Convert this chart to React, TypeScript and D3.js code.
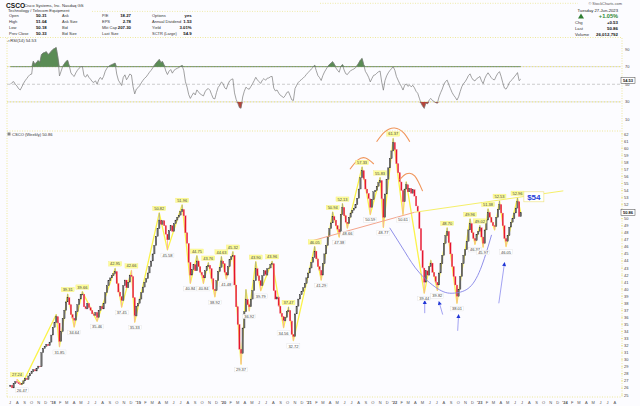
import * as d3 from 'd3'

// weekly closes (dividend adjusted), one per week ending Friday, from 7-Jul-2017
const closes2017 = [26.4, 26.0, 26.6, 26.9, 26.8, 26.6, 26.5, 26.6, 27.0, 27.4, 27.2, 27.7, 28.0, 28.3, 28.6, 28.4, 28.8, 29.1, 29.0, 31.0, 31.6, 31.9, 32.2, 32.0, 32.5, 33.5]
const closes2018 = [34.6, 35.3, 36.1, 35.2, 32.6, 34.0, 35.8, 37.0, 38.2, 38.8, 37.8, 36.4, 35.9, 35.6, 36.8, 37.8, 38.6, 39.2, 39.3, 37.5, 37.2, 38.0, 37.4, 37.0, 36.5, 36.3, 36.7, 36.0, 37.0, 37.6, 37.2, 38.0, 39.5, 40.5, 41.2, 41.6, 41.9, 42.2, 42.5, 40.8, 39.6, 39.0, 38.4, 40.5, 41.3, 40.2, 41.0, 42.0, 41.8, 38.8, 36.2, 37.6]
const closes2019 = [38.0, 38.6, 39.5, 40.3, 41.0, 41.5, 42.3, 43.2, 44.0, 45.0, 46.2, 47.5, 48.6, 49.8, 49.2, 49.7, 49.0, 47.8, 47.0, 48.3, 49.0, 48.2, 49.3, 49.8, 50.2, 50.5, 51.0, 51.3, 50.4, 48.0, 46.5, 43.8, 42.0, 42.8, 43.5, 42.6, 44.0, 43.2, 42.4, 42.0, 41.6, 42.6, 43.2, 43.4, 42.9, 41.5, 40.0, 39.8, 41.2, 42.5, 43.1, 44.0]
const closes2020 = [43.6, 42.4, 42.0, 43.2, 44.2, 44.6, 44.8, 40.6, 37.5, 35.0, 31.5, 30.9, 34.5, 36.8, 38.6, 37.8, 37.5, 38.6, 39.8, 41.2, 42.9, 41.9, 41.2, 40.5, 41.9, 42.6, 42.0, 42.9, 43.0, 43.5, 43.6, 39.8, 38.6, 38.9, 37.6, 36.6, 36.1, 35.5, 36.0, 36.8, 37.0, 35.5, 33.6, 33.3, 36.5, 37.6, 38.6, 39.2, 39.7, 40.2, 40.8, 41.6]
const closes2021 = [42.3, 43.0, 43.8, 44.5, 45.4, 44.3, 43.2, 42.7, 42.0, 43.6, 45.0, 46.2, 47.5, 48.6, 49.4, 50.3, 49.8, 49.0, 48.5, 48.1, 50.6, 51.6, 50.4, 49.5, 49.3, 50.2, 50.8, 51.2, 51.5, 52.0, 52.9, 54.2, 55.8, 56.8, 55.6, 54.2, 53.6, 52.8, 51.6, 52.7, 53.8, 54.0, 54.6, 55.1, 55.4, 52.8, 50.2, 53.5, 55.6, 57.2, 58.5, 59.6, 60.8]
const closes2022 = [59.8, 57.8, 56.5, 55.2, 54.0, 52.4, 54.2, 54.8, 53.8, 54.3, 53.6, 54.1, 53.2, 51.8, 51.0, 48.6, 45.5, 43.0, 41.0, 42.6, 42.0, 43.2, 43.7, 42.4, 41.8, 41.0, 40.6, 42.3, 43.6, 44.8, 46.5, 47.6, 48.2, 46.6, 45.0, 43.2, 41.8, 40.6, 39.0, 40.0, 41.8, 43.6, 44.8, 45.6, 46.8, 48.4, 49.3, 48.0, 47.2, 46.9, 47.8, 48.2]
const closes2023 = [48.7, 47.4, 46.5, 48.4, 49.8, 50.9, 50.2, 49.5, 49.0, 48.9, 50.2, 51.3, 52.0, 50.8, 49.0, 47.2, 46.8, 47.6, 48.8, 49.5, 50.0, 50.8, 51.5, 52.4, 50.3, 50.86]
const closes = [...closes2017, ...closes2018, ...closes2019, ...closes2020, ...closes2021, ...closes2022, ...closes2023]
const firstWeek = new Date(2017, 6, 7)
const openFirst = 26.2

// ZigZag turning points: week index and price
const pivotWeeks = [4, 7, 28, 30, 35, 39, 44, 53, 64, 68, 74, 76, 91, 96, 105, 110, 114, 118, 121, 125, 129, 132, 136, 141, 144, 146, 150, 153, 160, 167, 170, 173, 186, 190, 197, 201, 203, 206, 215, 220, 226, 228, 234, 240, 242, 253, 257, 261, 267, 273, 281, 284, 287, 289, 292, 296, 299, 303, 310]
const pivotPrices = [27.24, 26.47, 36.4, 31.85, 39.31, 34.64, 39.66, 35.46, 42.95, 37.45, 42.66, 35.33, 50.82, 45.58, 51.96, 40.84, 44.75, 40.84, 43.76, 38.92, 44.63, 41.48, 45.32, 29.37, 39.95, 36.92, 43.9, 39.79, 43.96, 34.56, 37.47, 32.72, 46.05, 41.29, 50.94, 47.38, 52.13, 48.66, 57.33, 50.59, 55.83, 48.77, 61.37, 50.61, 55.21, 39.44, 44.1, 39.82, 48.7, 38.01, 49.96, 46.37, 49.02, 45.97, 51.38, 48.4, 52.53, 46.05, 52.96]
const unlabeledWeeks = [28, 144, 242, 257, 296]

// RSI(14): first weeks, last value from the legend
const rsiLead = [50, 52, 53, 50, 48, 45, 43.5, 47, 51, 54, 56.5, 59, 61, 61.5]
const rsiLast = 54.53

// hand-drawn annotations, [week index, price]
const leftShoulder = [[207.5, 57.0], [212.3, 58.3], [217.2, 58.6], [222.1, 57.75]]
const headArc = [[223.9, 60.9], [228.8, 62.3], [234.9, 62.85], [240.4, 62.15], [244.1, 60.9]]
const rightShoulder = [[237.9, 55.5], [242.2, 56.35], [247.1, 56.05], [252.0, 53.9]]
const cupArc = [[231.9, 48.7], [241.1, 45.3], [250.2, 42.3], [262.4, 39.9], [271.6, 39.45], [280.8, 40.3], [288.1, 43.3], [294.2, 47.7]]
const necklineFrom = [184.2, 46.84]
const necklineTurn = [247.0, 50.9]
const necklineTo = [338.0, 53.94]
const arrowTips = [[253.3, 38.47], [261.8, 38.33], [274.0, 36.48], [302.1, 43.85]]
const arrowTails = [[253.3, 36.6], [264.3, 36.4], [273.4, 34.1], [298.5, 38.0]]
const targetLabel = '$54'
const targetAt = [320, 53.1]

const priceTicks = d3.range(25, 63)
const rsiTicks = [90, 70, 50, 30, 10]
const monthLetters = ['J', 'F', 'M', 'A', 'M', 'J', 'J', 'A', 'S', 'O', 'N', 'D']

const quoteLabels = [
  ['Open', 'High', 'Low', 'Prev Close'],
  ['Ask', 'Ask Size', 'Bid', 'Bid Size'],
  ['P/E', 'EPS', 'Mkt Cap', 'Last Size'],
  ['Options', 'Annual Dividend', 'Yield', 'SCTR (Large)'],
]
const quoteValues = [
  ['50.31', '51.04', '50.18', '50.33'],
  ['', '', '', ''],
  ['18.27', '2.78', '207.30', ''],
  ['yes', '1.53', '3.01%', '54.9'],
]
const sideLabels = ['Chg', 'Last', 'Volume']
const sideValues = ['+0.53', '50.86', '26,012,792']

const FONT = 'Liberation Sans, Arial, sans-serif'
const DOT = '#e8e070'

function computeRsi(v: number[], n: number) {
  const out: number[] = [...rsiLead]
  let g = 0
  let l = 0
  for (let i = 1; i <= n; i++) {
    const ch = v[i] - v[i - 1]
    g += Math.max(ch, 0) / n
    l += Math.max(-ch, 0) / n
  }
  out[n] = 100 - 100 / (1 + g / l)
  for (let i = n + 1; i < v.length; i++) {
    const ch = v[i] - v[i - 1]
    g = (g * (n - 1) + Math.max(ch, 0)) / n
    l = (l * (n - 1) + Math.max(-ch, 0)) / n
    out[i] = l === 0 ? 100 : 100 - 100 / (1 + g / l)
  }
  return out
}

export default function App() {
  const x = d3.scaleTime().domain([new Date(2018, 0, 1), new Date(2024, 0, 1)]).range([52, 564])
  const y = d3.scaleLinear().domain([25, 62]).range([395, 134])
  const yR = d3.scaleLinear().domain([10, 90]).range([119.5, 49])
  const wd = (i: number) => d3.timeDay.offset(firstWeek, Math.round(i * 7))
  const xi = (i: number) => x(wd(i))

  const bars = closes.map((c, i) => {
    const o = i === 0 ? openFirst : closes[i - 1]
    let hi = Math.max(o, c)
    let lo = Math.min(o, c)
    const k = pivotWeeks.indexOf(i)
    if (k >= 0) {
      if (pivotPrices[k] > hi) hi = pivotPrices[k]
      if (pivotPrices[k] < lo) lo = pivotPrices[k]
    }
    return { i, o, c, hi, lo, up: c >= o }
  })

  const rsi = computeRsi(closes, 14)
  const rsiLine = d3.line<number>().x((_, i) => xi(i)).y((d) => yR(d))(rsi) || ''
  const over = d3.area<number>().x((_, i) => xi(i)).y0(yR(70)).y1((d) => yR(Math.max(d, 70)))(rsi) || ''
  const under = d3.area<number>().x((_, i) => xi(i)).y0(yR(30)).y1((d) => yR(Math.min(d, 30)))(rsi) || ''

  const isHigh = (k: number) =>
    k === 0 ? pivotPrices[0] > pivotPrices[1] : pivotPrices[k] > pivotPrices[k - 1]
  const zz = pivotWeeks.map((w, k) => [xi(w), y(pivotPrices[k])] as [number, number])
  zz.push([xi(closes.length - 1), y(closes[closes.length - 1])])
  const zigzag = d3.line()(zz) || ''

  const pt = (p: number[]) => [xi(p[0]), y(p[1])] as [number, number]
  const curve = (pts: number[][]) => d3.line().curve(d3.curveNatural)(pts.map(pt)) || ''

  const months = d3.timeMonth.range(new Date(2017, 6, 1), new Date(2024, 7, 2))
  const last = closes[closes.length - 1]

  const L = 7
  const R = 621
  const [tgx, tgy] = pt(targetAt)

  return (
    <svg width={640} height={406} style={{ position: 'absolute', left: 0, top: 0, background: '#fcfcff' }} fontFamily={FONT}>
      <style>{`body{margin:0}`}</style>
      <rect width={640} height={406} fill="#fcfcff" />

      {/* header */}
      <text x={6} y={7.6} fontSize={6.6} fontWeight={700} fill="#111">CSCO</text>
      <text x={24} y={7.4} fontSize={4.2} fill="#333">Cisco Systems, Inc.  Nasdaq GS</text>
      <text x={8} y={12} fontSize={4.2} fill="#333">Technology / Telecom Equipment</text>
      <line x1={92} x2={320} y1={11.4} y2={11.4} stroke={DOT} strokeWidth={0.6} strokeDasharray="1 1.5" />
      <line x1={320} x2={578} y1={3.3} y2={3.3} stroke={DOT} strokeWidth={0.6} strokeDasharray="1 1.5" />
      {quoteLabels.map((col, c) =>
        col.map((lab, r) => (
          <text key={`l${c}${r}`} x={[9, 62, 102, 152][c]} y={17.4 + r * 6} fontSize={4} fill="#333">{lab}</text>
        ))
      )}
      {quoteValues.map((col, c) =>
        col.map((val, r) => (
          <text key={`v${c}${r}`} x={[46.7, 90, 131, 191.7][c]} y={17.4 + r * 6} fontSize={4.3} fontWeight={700} fill="#111" textAnchor="end">{val}</text>
        ))
      )}
      <text x={622} y={5.4} fontSize={3.9} fill="#555" textAnchor="end">© StockCharts.com</text>
      <text x={618} y={11.7} fontSize={4.2} fill="#222" textAnchor="end">Tuesday  27-Jun-2023</text>
      <path d="M578,18.5 L581,13.5 L584,18.5 Z" fill="#2f7d32" />
      <text x={618} y={18.2} fontSize={5.6} fontWeight={700} fill="#2f8a34" textAnchor="end">+1.05%</text>
      {sideLabels.map((s, k) => (
        <text key={s} x={575} y={24.3 + k * 5.9} fontSize={4.2} fill="#333">{s}</text>
      ))}
      {sideValues.map((s, k) => (
        <text key={s} x={618} y={24.3 + k * 5.9} fontSize={4.4} fontWeight={700} fill="#111" textAnchor="end">{s}</text>
      ))}
      <line x1={0} x2={R} y1={37.5} y2={37.5} stroke={DOT} strokeWidth={0.7} strokeDasharray="1 1.5" />

      {/* RSI panel */}
      <line x1={L} x2={L} y1={38} y2={397} stroke={DOT} strokeWidth={0.7} strokeDasharray="1 1.5" />
      <line x1={R + 1} x2={R + 1} y1={38} y2={397} stroke={DOT} strokeWidth={0.7} strokeDasharray="1 1.5" />
      <text x={7} y={42} fontSize={4.2} fill="#333">⩘ RSI(14) {rsiLast.toFixed(2)}</text>
      {[70, 30].map((v) => (
        <g key={v}>
          <line x1={L} x2={R} y1={yR(v)} y2={yR(v)} stroke="#d4d4d4" strokeWidth={0.8} />
          <line x1={L} x2={R} y1={yR(v)} y2={yR(v)} stroke="#f0ea60" strokeWidth={0.8} strokeDasharray="1 2" />
        </g>
      ))}
      <line x1={L} x2={R} y1={yR(50)} y2={yR(50)} stroke="#b8b8b8" strokeWidth={0.7} strokeDasharray="3 2" />
      <path d={over} fill="#5a8c55" stroke="#41703d" strokeWidth={0.4} />
      <path d={under} fill="#b5443a" />
      <path d={rsiLine} fill="none" stroke="#7a7a7a" strokeWidth={0.7} />
      {rsiTicks.map((t) => (
        <text key={t} x={625} y={yR(t) + 1.5} fontSize={4} fill="#444">{t}</text>
      ))}
      <rect x={621} y={yR(rsiLast) - 3} width={14} height={6} fill="#fff" stroke="#444" strokeWidth={0.5} />
      <text x={628} y={yR(rsiLast) + 1.5} fontSize={4} fontWeight={700} textAnchor="middle" fill="#111">{rsiLast.toFixed(2)}</text>

      {/* price panel */}
      <line x1={L} x2={R} y1={131} y2={131} stroke={DOT} strokeWidth={0.7} strokeDasharray="1 1.5" />
      <rect x={L + 0.5} y={132.5} width={3} height={3} fill="#888" />
      <text x={12} y={135.6} fontSize={4.1} fill="#333">CSCO (Weekly) {last.toFixed(2)}</text>

      <path d={zigzag} fill="none" stroke="#fbf34a" strokeWidth={1.3} strokeLinejoin="round" />

      {bars.map((b) => {
        const cx = xi(b.i)
        return (
          <g key={b.i}>
            <line x1={cx} x2={cx} y1={y(b.hi)} y2={y(b.lo)} stroke={b.up ? '#9a9a9a' : '#f4a3ad'} strokeWidth={0.9} />
            <rect
              x={cx - 0.7}
              y={y(Math.max(b.o, b.c))}
              width={1.4}
              height={Math.max(0.8, Math.abs(y(b.o) - y(b.c)))}
              fill={b.up ? '#6e6e6e' : '#e5122c'}
              stroke={b.up ? '#333' : '#f07080'}
              strokeWidth={0.3}
            />
          </g>
        )
      })}

      {/* neckline / resistance */}
      <path d={d3.line()([pt(necklineFrom), pt(necklineTurn)]) || ''} stroke="#f4a58c" strokeWidth={1} fill="none" />
      <path d={d3.line()([pt(necklineTurn), pt(necklineTo)]) || ''} stroke="#f5ef6a" strokeWidth={1} fill="none" />

      {/* head & shoulders arcs, cup */}
      {[leftShoulder, headArc, rightShoulder].map((a, k) => (
        <path key={k} d={curve(a)} fill="none" stroke="#f0955a" strokeWidth={1.1} />
      ))}
      <path d={curve(cupArc)} fill="none" stroke="#8383e6" strokeWidth={0.9} />
      {arrowTips.map((t, k) => {
        const [tx, ty] = pt(t)
        const [bx, by] = pt(arrowTails[k])
        const ang = Math.atan2(ty - by, tx - bx)
        const hx = tx - Math.cos(ang) * 4
        const hy = ty - Math.sin(ang) * 4
        const px = -Math.sin(ang) * 2
        const py = Math.cos(ang) * 2
        return (
          <g key={k}>
            <line x1={bx} y1={by} x2={hx} y2={hy} stroke="#8b8bef" strokeWidth={0.8} />
            <path d={`M${tx},${ty} L${hx + px},${hy + py} L${hx - px},${hy - py} Z`} fill="#1f35d6" />
          </g>
        )
      })}

      {/* zigzag labels */}
      {pivotWeeks.map((w, k) => {
        if (unlabeledWeeks.includes(w)) return null
        const hi = isHigh(k)
        const cx = xi(w)
        const cy = hi ? y(pivotPrices[k]) - 4.5 : y(pivotPrices[k]) + 5.5
        return (
          <g key={w}>
            <rect x={cx - 6.5} y={cy - 2.2} width={13} height={4.4} fill={hi ? '#fdfd9a' : '#ffffff'} stroke={hi ? '#f2e66a' : '#d8d8d8'} strokeWidth={0.3} />
            <text x={cx} y={cy + 1.5} fontSize={4} textAnchor="middle" fill="#444">{pivotPrices[k].toFixed(2)}</text>
          </g>
        )
      })}

      {/* target */}
      <rect x={tgx - 10} y={tgy - 5} width={20} height={10} fill="#ffffff" stroke="#efe48a" strokeWidth={0.7} />
      <text x={tgx} y={tgy + 3} fontSize={8} fontWeight={700} textAnchor="middle" fill="#2540d8">{targetLabel}</text>

      {/* price axis */}
      {priceTicks.map((t) => (
        <g key={t}>
          <line x1={R} x2={R + 2} y1={y(t)} y2={y(t)} stroke={DOT} strokeWidth={0.6} />
          {Math.abs(y(t) - y(last)) > 4.5 && (
            <text x={624} y={y(t) + 1.5} fontSize={4} fill="#444">{t}</text>
          )}
        </g>
      ))}
      <rect x={621} y={y(last) - 3} width={14} height={6} fill="#fff" stroke="#444" strokeWidth={0.5} />
      <text x={628} y={y(last) + 1.5} fontSize={4} fontWeight={700} textAnchor="middle" fill="#111">{last.toFixed(2)}</text>

      {/* time axis */}
      <line x1={L} x2={R} y1={397} y2={397} stroke={DOT} strokeWidth={0.7} strokeDasharray="1 1.5" />
      {months.map((m) => {
        const jan = m.getMonth() === 0
        return (
          <text key={+m} x={x(m) + 1} y={403.5} fontSize={4} fontWeight={jan ? 700 : 400} textAnchor="middle" fill="#555">
            {jan ? `'${String(m.getFullYear()).slice(2)}` : monthLetters[m.getMonth()]}
          </text>
        )
      })}
    </svg>
  )
}
